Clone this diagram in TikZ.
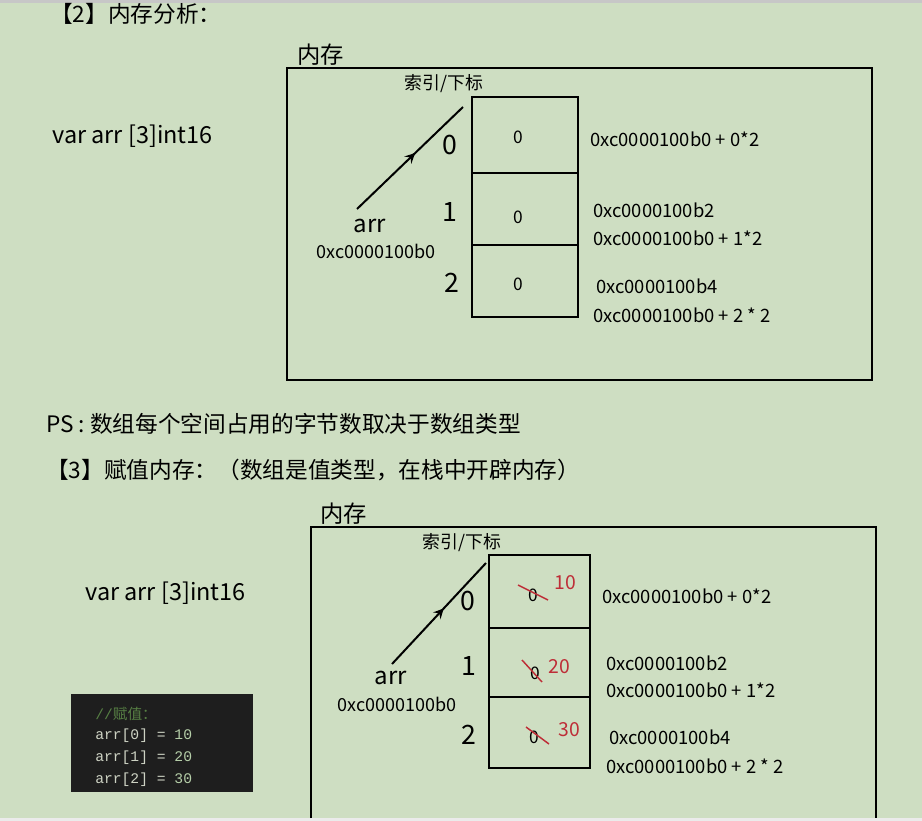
\documentclass[tikz,border=0pt]{standalone}
\usepackage{fontspec}
\setmainfont{Noto Sans CJK SC}
\setmonofont{Liberation Mono}
\newfontfamily\cjk{Noto Sans CJK SC}
\usetikzlibrary{arrows, decorations.markings}
\definecolor{bggreen}{RGB}{206,222,194}
\definecolor{codebg}{RGB}{30,30,30}
\definecolor{codecmt}{RGB}{87,128,68}
\definecolor{codetxt}{RGB}{205,210,195}
\definecolor{codenum}{RGB}{181,206,168}
\definecolor{redval}{RGB}{190,45,55}

\begin{document}
\begin{tikzpicture}[x=0.75pt, y=-0.75pt]
		\tikzstyle{Head} = [anchor=west, inner sep=0pt, font=\fontsize{17}{20}\selectfont]
		\tikzstyle{Mem} = [anchor=west, inner sep=0pt, font=\fontsize{17.5}{20}\selectfont]
		\tikzstyle{IdxLab} = [inner sep=0pt, font=\fontsize{13.4}{16}\selectfont]
		\tikzstyle{Idx} = [inner sep=0pt, font=\fontsize{20}{24}\selectfont]
		\tikzstyle{Addr} = [anchor=west, inner sep=0pt, font=\fontsize{13.8}{16}\selectfont]
		\tikzstyle{Val} = [inner sep=0pt, font=\fontsize{13}{16}\selectfont]
		\tikzstyle{Red} = [inner sep=0pt, text=redval, font=\fontsize{14.5}{16}\selectfont]
		\tikzstyle{Cell} = [rectangle, draw=black, line width=1.5pt, inner sep=0pt]
		\tikzstyle{Code} = [anchor=west, inner sep=0pt, font=\ttfamily\fontsize{11}{13}\selectfont]
		\tikzstyle{arrow} = [line width=1.5pt, postaction={decorate}, decoration={markings, mark=at position 0.55 with {\arrow[line width=1.2pt, scale=1.5]{stealth}}}]
		\tikzstyle{strike} = [redval, line width=1.1pt]
		
		\useasboundingbox (0,0) rectangle (922,821);
		\fill [bggreen] (0,0) rectangle (922,821);
		\fill [black!22] (0,0) rectangle (922,3);
		\fill [white!92!black] (0,818) rectangle (922,821);
		
		\node (h2) [Head] at (50,14) {【2】内存分析：};
		\node (memA) [Mem] at (297,55) {内存};
		\draw [line width=1.5pt, black] (287,68) rectangle (872,380);
		\node (idxlabA) [IdxLab] at (444,84) {索引/下标};
		\node (varA) [Head, font=\fontsize{17.6}{20}\selectfont] at (52,136) {var arr [3]int16};
		
		\node (cellA0) [Cell, minimum width=79.5pt, minimum height=57pt] at (525,135) {};
		\node (cellA1) [Cell, minimum width=79.5pt, minimum height=54pt] at (525,209) {};
		\node (cellA2) [Cell, minimum width=79.5pt, minimum height=54pt] at (525,281) {};
		\node (valA0) [Val] at (518,137) {0};
		\node (valA1) [Val] at (518,217) {0};
		\node (valA2) [Val] at (518,284) {0};
		\node (idxA0) [Idx] at (450,145) {0};
		\node (idxA1) [Idx] at (450,212) {1};
		\node (idxA2) [Idx] at (452,283) {2};
		
		\node (arrA) [Idx, font=\fontsize{18}{20}\selectfont] at (370,226) {arr};
		\node (baseA) [Val, font=\fontsize{13.5}{16}\selectfont] at (376,251) {0xc0000100b0};
		\coordinate (tailA) at (357,209);
		\coordinate (tipA) at (463,107);
		\draw [arrow] (tailA) -- (tipA);
		
		\node (adA0) [Addr] at (590,139) {0xc0000100b0 + 0*2};
		\node (adA1) [Addr] at (593,210) {0xc0000100b2};
		\node (adA1b) [Addr] at (593,238) {0xc0000100b0 + 1*2};
		\node (adA2) [Addr] at (596,286) {0xc0000100b4};
		\node (adA2b) [Addr] at (593,315) {0xc0000100b0 + 2 * 2};
		
		\node (ps) [Head] at (46,424) {PS : 数组每个空间占用的字节数取决于数组类型};
		\node (h3) [Head] at (46,470) {【3】赋值内存：（数组是值类型，在栈中开辟内存）};
		
		\node (memB) [Mem] at (320,514) {内存};
		\draw [line width=1.5pt, black] (311,818) -- (311,527) -- (876,527) -- (876,818);
		\node (idxlabB) [IdxLab] at (462,543) {索引/下标};
		\node (varB) [Head, font=\fontsize{17.6}{20}\selectfont] at (85,593) {var arr [3]int16};
		
		\node (cellB0) [Cell, minimum width=75.75pt, minimum height=54.75pt] at (539.5,591.5) {};
		\node (cellB1) [Cell, minimum width=75.75pt, minimum height=51.75pt] at (539.5,662.5) {};
		\node (cellB2) [Cell, minimum width=75.75pt, minimum height=53.25pt] at (539.5,732.5) {};
		\node (valB0) [Val] at (533,595) {0};
		\node (valB1) [Val] at (535,673) {0};
		\node (valB2) [Val] at (534,737) {0};
		\draw [strike] ([shift={(-15,-10)}]valB0.center) -- ([shift={(15,5)}]valB0.center);
		\draw [strike] ([shift={(-13,-13)}]valB1.center) -- ([shift={(7,9)}]valB1.center);
		\draw [strike] ([shift={(-8,-10)}]valB2.center) -- ([shift={(15,7)}]valB2.center);
		\node (newB0) [Red] at (565,583) {10};
		\node (newB1) [Red] at (559,667) {20};
		\node (newB2) [Red] at (569,730) {30};
		\node (idxB0) [Idx] at (468,601) {0};
		\node (idxB1) [Idx] at (469,666) {1};
		\node (idxB2) [Idx] at (469,735) {2};
		
		\node (arrB) [Idx, font=\fontsize{18}{20}\selectfont] at (391,678) {arr};
		\node (baseB) [Val, font=\fontsize{13.5}{16}\selectfont] at (397,704) {0xc0000100b0};
		\coordinate (tailB) at (392,664);
		\coordinate (tipB) at (486,563);
		\draw [arrow] (tailB) -- (tipB);
		
		\node (adB0) [Addr] at (602,596) {0xc0000100b0 + 0*2};
		\node (adB1) [Addr] at (606,663) {0xc0000100b2};
		\node (adB1b) [Addr] at (606,690) {0xc0000100b0 + 1*2};
		\node (adB2) [Addr] at (609,737) {0xc0000100b4};
		\node (adB2b) [Addr] at (606,766) {0xc0000100b0 + 2 * 2};
		
		\fill [codebg] (71,694) rectangle (253,792);
		\node (cmt) [Code, text=codecmt] at (95,714) {//{\cjk 赋值：}};
		\node (set0) [Code, text=codetxt] at (95,736) {arr[0] = \textcolor{codenum}{10}};
		\node (set1) [Code, text=codetxt] at (95,758) {arr[1] = \textcolor{codenum}{20}};
		\node (set2) [Code, text=codetxt] at (95,780) {arr[2] = \textcolor{codenum}{30}};
\end{tikzpicture}
\end{document}
